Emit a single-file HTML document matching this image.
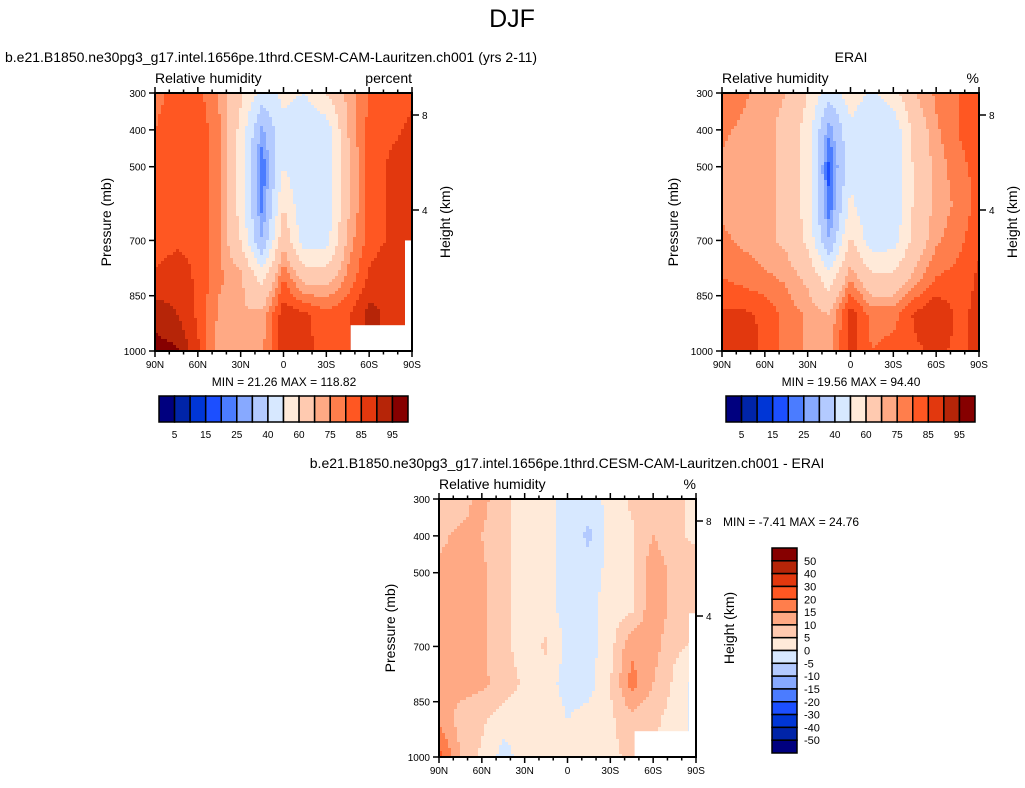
<!DOCTYPE html>
<html><head><meta charset="utf-8">
<style>
html,body{margin:0;padding:0;background:#fff;}
svg text{font-family:"Liberation Sans",sans-serif;fill:#000;}
</style></head>
<body>
<svg id="root" width="1025" height="783" xmlns="http://www.w3.org/2000/svg">
<text x="512" y="27" font-size="25" text-anchor="middle">DJF</text>
<g id="p1"></g>
<g id="p2"></g>
<g id="p3"></g>
</svg>
<script>
// ---- data ----
const lats = [90,75,60,45,30,15,0,-15,-30,-45,-60,-75,-90];
const pressures = [300,400,500,600,700,800,900,1000];
const rhLevels = [5,10,15,20,25,30,40,50,60,70,75,80,85,90,95];
const rhTickLabels = ["5","15","25","40","60","75","85","95"];
const diffLevels = [-50,-40,-30,-20,-15,-10,-5,0,5,10,15,20,30,40,50];
const diffTickLabels = ["50","40","30","20","15","10","5","0","-5","-10","-15","-20","-30","-40","-50"];
const xTickLabels = ["90N","60N","30N","0","30S","60S","90S"];
const yTickLabels = [300,400,500,700,850,1000];
const modelRH = [
 [78,82,82,74,62,46,52,50,60,72,80,82,84],
 [80,84,84,76,57,28,48,42,44,70,82,84,86],
 [80,84,84,76,56,20,50,40,42,68,82,86,86],
 [80,84,84,76,56,22,60,40,42,68,82,86,86],
 [82,84,84,76,60,30,68,44,46,72,82,86,86],
 [86,88,84,76,72,56,80,66,66,76,86,90,88],
 [93,90,84,74,70,72,88,86,82,84,92,88,86],
 [97,96,86,72,70,74,88,86,84,84,92,88,86]];
const eraiRH = [
 [78,76,72,70,60,44,55,48,56,70,76,80,84],
 [76,74,72,68,56,26,48,42,42,64,74,80,84],
 [74,72,72,68,56,18,48,40,40,62,72,78,82],
 [74,72,72,68,56,20,52,40,40,62,72,76,82],
 [76,74,72,68,58,30,62,44,46,64,74,78,84],
 [80,78,76,74,68,54,74,62,62,72,80,82,86],
 [86,86,84,78,74,70,88,78,78,86,90,84,86],
 [90,88,84,78,74,72,88,80,82,84,86,84,86]];
const diffRH = [
 [8,8,12,6,3,2,-2,-3,2,6,9,6,4],
 [9,11,10,6,3,2,-2,-6,2,4,10,6,4],
 [11,12,11,7,2,2,-2,-3,2,4,14,8,8],
 [11,12,11,7,2,2,-2,-2,3,4,14,8,10],
 [11,12,11,7,2,6,-2,-2,3,14,12,6,4],
 [10,12,11,8,4,2,-2,-2,5,17,10,4,-2],
 [14,8,6,2,2,4,0,2,4,8,6,3,-2],
 [22,10,4,-2,2,2,0,2,4,6,5,3,-2]];
const colors = ["#00007f","#0024a8","#0036d6","#1c4fff","#4b7cff","#87a9ff","#b3caff","#d7e8ff",
 "#ffead9","#ffcab0","#ffa984","#ff7e4c","#ff5722","#e2380e","#b62508","#860000"];

const NS="http://www.w3.org/2000/svg";
function mk(tag,attrs,parent){const e=document.createElementNS(NS,tag);for(const k in attrs)e.setAttribute(k,attrs[k]);parent.appendChild(e);return e;}
function txt(s,attrs,parent){const e=mk("text",attrs,parent);e.textContent=s;return e;}
function interp(grid,lat,p){
  const fx=(90-lat)/15, fy=(p-300)/100;
  const i0=Math.min(Math.floor(fx),11), j0=Math.min(Math.floor(fy),6);
  const tx=fx-i0, ty=fy-j0;
  const a=grid[j0][i0],b=grid[j0][i0+1],c=grid[j0+1][i0],d=grid[j0+1][i0+1];
  return (a*(1-tx)+b*tx)*(1-ty)+(c*(1-tx)+d*tx)*ty;
}
function levelIndex(v,levels){let k=0;while(k<levels.length&&v>=levels[k])k++;return k;}

function panel(g,L,T,grid,levels,opts){
  const W=257,H=258;
  const xs=lat=>L+(90-lat)/180*W;
  const ys=p=>T+(p-300)/700*H;
  const cell=3;
  const field=mk("g",{},g);
  
  
  for(let px=0;px<W;px+=cell){
    for(let py=0;py<H;py+=cell){
      const lat=90-(px+cell/2)/W*180, p=300+(py+cell/2)/H*700;
      const v=interp(grid,lat,p);
      const r=mk("rect",{x:L+px,y:T+py,width:Math.min(cell,W-px)+0.4,height:Math.min(cell,H-py)+0.4,fill:colors[levelIndex(v,levels)]},field);
      
      
    }
  }
  if(opts.mask){
    const m1=mk("rect",{x:xs(-47),y:ys(930),width:xs(-90)-xs(-47),height:ys(1000)-ys(930),fill:"#fff"},g);
    
    
  }
  if(opts.strip){const m2=mk("rect",{x:L+W-7,y:ys(opts.strip),width:7,height:ys(1000)-ys(opts.strip),fill:"#fff"},g);
    
    }
  const frame=mk("rect",{x:L,y:T,width:W,height:H,fill:"none",stroke:"#000","stroke-width":2},g);
  
  
  for(let lat=90;lat>=-90;lat-=10){
    const x=xs(lat), major=lat%30===0, len=major?6:3.5;
    mk("line",{x1:x,y1:T,x2:x,y2:T-len,stroke:"#000","stroke-width":1.5},g);
    mk("line",{x1:x,y1:T+H,x2:x,y2:T+H+len,stroke:"#000","stroke-width":1.5},g);
  }
  xTickLabels.forEach((s,i)=>{const t=txt(s,{x:L+i*W/6,y:T+H+17,"font-size":10,"text-anchor":"middle"},g);
    
    });
  yTickLabels.forEach(p=>{mk("line",{x1:L,y1:ys(p),x2:L-6,y2:ys(p),stroke:"#000","stroke-width":1.5},g);
    const t=txt(String(p),{x:L-9,y:ys(p)+4,"font-size":10,"text-anchor":"end"},g);
    
    });
  [[8,115],[4,210]].forEach(([h,y])=>{const yy=T+(y-93);mk("line",{x1:L+W,y1:yy,x2:L+W+7,y2:yy,stroke:"#000","stroke-width":1.5},g);
    const t=txt(String(h),{x:L+W+10,y:yy+4,"font-size":10},g);
    
    });
  const yl=txt("Pressure (mb)",{x:0,y:0,"font-size":14,"text-anchor":"middle",transform:`translate(${L-44},${T+H/2}) rotate(-90)`},g);
  
  
  const hl=txt("Height (km)",{x:0,y:0,"font-size":14,"text-anchor":"middle",transform:`translate(${L+W+38},${T+H/2}) rotate(-90)`},g);
  
  
  const lt=txt("Relative humidity",{x:L,y:T-10,"font-size":14},g);
  
  
  const ut=txt(opts.units,{x:L+W,y:T-10,"font-size":14,"text-anchor":"end"},g);
  
  
  const tt=txt(opts.title,{x:opts.titleX,y:T-31,"font-size":14,"text-anchor":opts.titleAnchor},g);
  
  
}
function hbar(g,L,T){
  const bw=249/16;
  colors.forEach((c,i)=>{const r=mk("rect",{x:L+i*bw,y:T,width:bw,height:26,fill:c,stroke:"#000","stroke-width":1.5},g);
    
    });
  rhTickLabels.forEach((s,i)=>{const t=txt(s,{x:L+(2*i+1)*bw,y:T+42,"font-size":10,"text-anchor":"middle"},g);
    
    });
}
const p1=document.getElementById("p1"),p2=document.getElementById("p2"),p3=document.getElementById("p3");
panel(p1,155,93,modelRH,rhLevels,{units:"percent",title:"b.e21.B1850.ne30pg3_g17.intel.1656pe.1thrd.CESM-CAM-Lauritzen.ch001 (yrs 2-11)",titleX:5,titleAnchor:"start",strip:700,mask:true});
let t=txt("MIN =  21.26  MAX = 118.82",{x:284,y:386,"font-size":12,"text-anchor":"middle"},p1);


hbar(p1,159,396);
panel(p2,722,93,eraiRH,rhLevels,{units:"%",title:"ERAI",titleX:851,titleAnchor:"middle",strip:0,mask:false});
t=txt("MIN =  19.56  MAX = 94.40",{x:851,y:386,"font-size":12,"text-anchor":"middle"},p2);


hbar(p2,726,396);
panel(p3,439,499,diffRH,diffLevels,{units:"%",title:"b.e21.B1850.ne30pg3_g17.intel.1656pe.1thrd.CESM-CAM-Lauritzen.ch001 - ERAI",titleX:567,titleAnchor:"middle",strip:610,mask:true});
t=txt("MIN =  -7.41  MAX = 24.76",{x:723,y:526,"font-size":12},p3);


const vbw=205/16;
colors.slice().reverse().forEach((c,i)=>{const r=mk("rect",{x:772,y:548+i*vbw,width:25,height:vbw,fill:c,stroke:"#000","stroke-width":1.5},p3);
  
  });
diffTickLabels.forEach((s,i)=>{const tt=txt(s,{x:804,y:548+(i+1)*vbw+4,"font-size":11},p3);
  
  });
</script>
</body></html>
